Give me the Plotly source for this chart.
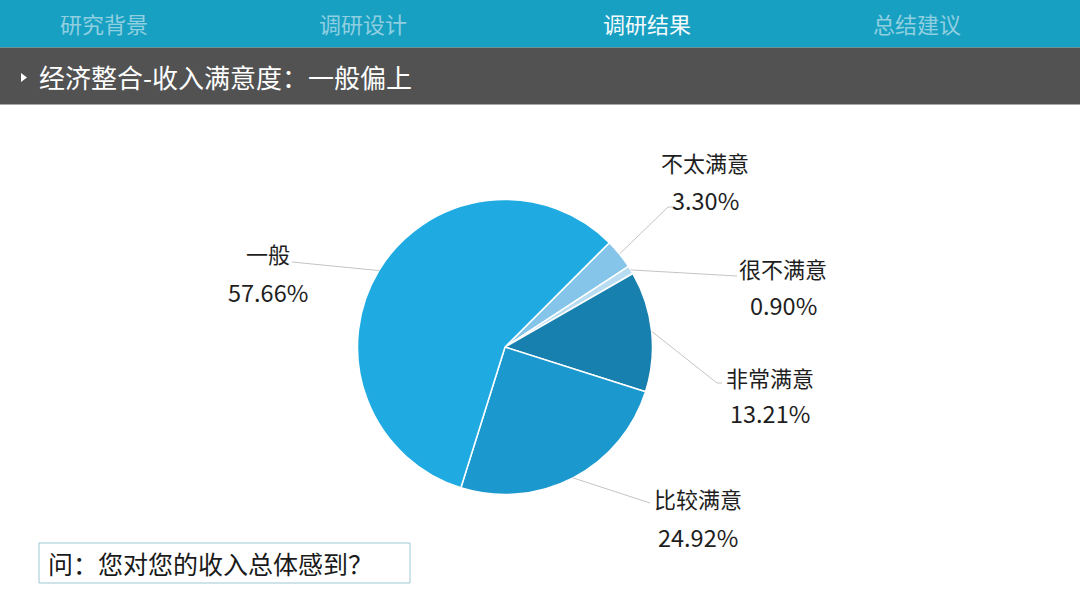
import math
import plotly.graph_objects as go

# 饼图数据
labels = ["不太满意", "很不满意", "非常满意", "比较满意", "一般"]
values = [3.30, 0.90, 13.21, 24.92, 57.66]
colors = ["#86c5ea", "#b8dcf1", "#1780ae", "#1b99cf", "#1fabe2"]

tabs = ["研究背景", "调研设计", "调研结果", "总结建议"]
active_tab = "调研结果"
title = "经济整合-收入满意度：一般偏上"
question = "问：您对您的收入总体感到？"

W, H = 1080, 608
CX, CY, R = 505, 347, 147.5   # 饼图中心和半径(像素)
ROT = 45
FONT = "Noto Sans CJK SC"


def px(x):
    return x / W


def py(y):
    return 1 - y / H


# 标签位置: 中心x, 名称y, 百分比y, 引线折点
label_pos = {
    "不太满意": (705, 162, 200, [(668, 207), (673, 207)]),
    "很不满意": (783, 268, 305, [(737, 276)]),
    "非常满意": (770, 377, 413, [(717, 383), (722, 383)]),
    "比较满意": (698, 498, 537, [(650, 503)]),
    "一般": (268, 253, 292, [(292, 262)]),
}

fig = go.Figure(go.Pie(
    labels=labels,
    values=values,
    sort=False,
    direction="clockwise",
    rotation=ROT,
    marker=dict(colors=colors, line=dict(color="white", width=1.5)),
    textinfo="none",
    hoverinfo="label+percent",
    showlegend=False,
    domain=dict(x=[px(CX - R), px(CX + R)], y=[py(CY + R), py(CY - R)]),
))

shapes = []
annotations = []

# 顶部导航
shapes.append(dict(type="rect", xref="paper", yref="paper", x0=0, x1=1,
                   y0=py(47.5), y1=1, fillcolor="#18a0c2", line=dict(width=0), layer="below"))
shapes.append(dict(type="rect", xref="paper", yref="paper", x0=0, x1=1,
                   y0=py(104.5), y1=py(47.5), fillcolor="#525252", line=dict(width=0), layer="below"))
tab_x = [104, 363, 647, 917]
for t, x in zip(tabs, tab_x):
    annotations.append(dict(x=px(x), y=py(23.5), xref="paper", yref="paper", text=t,
                            showarrow=False, xanchor="center", yanchor="middle",
                            font=dict(family=FONT, size=22,
                                      color="#f4fbfd" if t == active_tab else "#8fcfe0")))

# 标题
shapes.append(dict(type="path", xref="paper", yref="paper",
                   path=f"M {px(21)} {py(73)} L {px(27)} {py(77.5)} L {px(21)} {py(82)} Z",
                   fillcolor="white", line=dict(width=0)))
annotations.append(dict(x=px(37), y=py(76), xref="paper", yref="paper", text=title,
                        showarrow=False, xanchor="left", yanchor="middle",
                        font=dict(family=FONT, size=26, color="white")))

# 标签和引线
total = sum(values)
cum = 0
for lab, v in zip(labels, values):
    mid = math.radians(ROT + (cum + v / 2) / total * 360)
    cum += v
    ex = CX + R * math.sin(mid)
    ey = CY - R * math.cos(mid)
    cx, ly, pcy, pts = label_pos[lab]
    path = f"M {px(ex)} {py(ey)}"
    for (x, y) in pts:
        path += f" L {px(x)} {py(y)}"
    shapes.append(dict(type="path", xref="paper", yref="paper", path=path,
                       line=dict(color="#c4c4c4", width=1)))
    annotations.append(dict(x=px(cx), y=py(ly), xref="paper", yref="paper", text=lab,
                            showarrow=False, xanchor="center", yanchor="middle",
                            font=dict(family=FONT, size=22, color="#1e1e1e")))
    annotations.append(dict(x=px(cx), y=py(pcy), xref="paper", yref="paper",
                            text=f"{v:.2f}%", showarrow=False,
                            xanchor="center", yanchor="middle",
                            font=dict(family=FONT, size=23.5, color="#1e1e1e")))

# 底部问题框
shapes.append(dict(type="rect", xref="paper", yref="paper", x0=px(39), x1=px(410),
                   y0=py(583), y1=py(543), line=dict(color="#9cc8d4", width=1)))
annotations.append(dict(x=px(46), y=py(563), xref="paper", yref="paper", text=question,
                        showarrow=False, xanchor="left", yanchor="middle",
                        font=dict(family=FONT, size=25, color="#1a1a1a")))

fig.update_layout(
    width=W, height=H,
    margin=dict(l=0, r=0, t=0, b=0),
    paper_bgcolor="white",
    plot_bgcolor="white",
    shapes=shapes,
    annotations=annotations,
)

# 去掉页面默认边距
fig.write_html("out.html", config={"displayModeBar": False},
               post_script="document.body.style.margin='0';")
